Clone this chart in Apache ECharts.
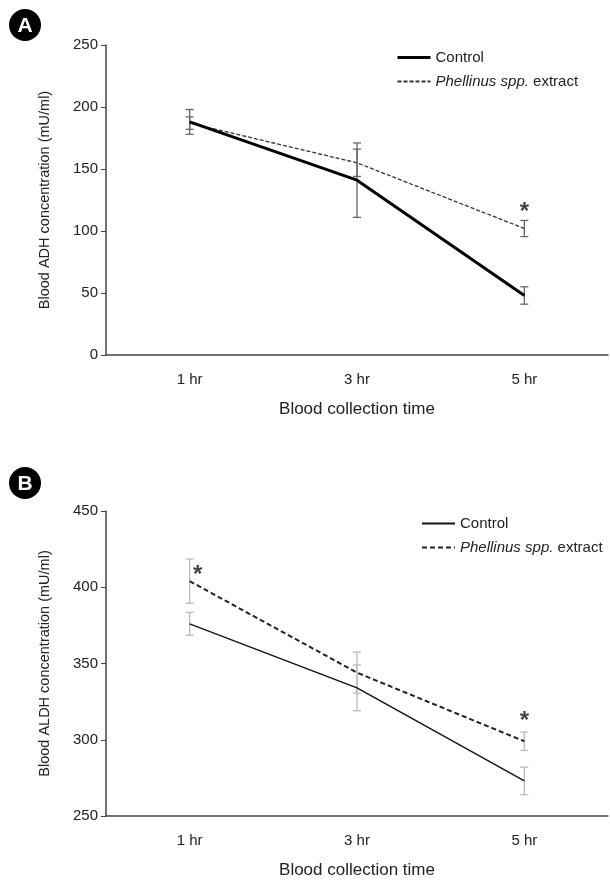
<!DOCTYPE html>
<html>
<head>
<meta charset="utf-8">
<script src="https://cdn.jsdelivr.net/npm/echarts@6/dist/echarts.min.js"></script>
<style>
  html, body { margin: 0; padding: 0; background: #fff; }
  #chart { width: 610px; height: 880px; }
</style>
</head>
<body>
<div id="chart"></div>
<script>
// categories
var times = ['1 hr', '3 hr', '5 hr'];

// panel A - ADH
var adhControl = [188, 141, 48];
var adhControlErr = [10, 30, 7];
var adhExtract = [187, 155, 102];
var adhExtractErr = [5, 11, 6.5];
var adhStars = [[2, 115]];

// panel B - ALDH
var aldhControl = [376, 334, 273];
var aldhControlErr = [7.5, 15, 9];
var aldhExtract = [404, 344, 299];
var aldhExtractErr = [14.5, 13.5, 6];
var aldhStars = [[0, 408], [2, 312]];

var font = 'Liberation Sans, Arial, sans-serif';

function errData(vals, errs) {
    return vals.map(function (v, i) { return [i, v - errs[i], v + errs[i]]; });
}

function errSeries(name, xi, vals, errs, color) {
    return {
        name: name,
        type: 'custom',
        xAxisIndex: xi, yAxisIndex: xi,
        data: errData(vals, errs),
        z: 1,
        renderItem: function (params, api) {
            var lo = api.coord([api.value(0), api.value(1)]);
            var hi = api.coord([api.value(0), api.value(2)]);
            var w = 4;
            var st = { stroke: color, lineWidth: 1.3 };
            return {
                type: 'group',
                children: [
                    { type: 'line', shape: { x1: lo[0], y1: lo[1], x2: hi[0], y2: hi[1] }, style: st },
                    { type: 'line', shape: { x1: lo[0] - w, y1: lo[1], x2: lo[0] + w, y2: lo[1] }, style: st },
                    { type: 'line', shape: { x1: hi[0] - w, y1: hi[1], x2: hi[0] + w, y2: hi[1] }, style: st }
                ]
            };
        }
    };
}

function starSeries(xi, pts, offsets) {
    return {
        type: 'scatter',
        xAxisIndex: xi, yAxisIndex: xi,
        data: pts.map(function (p, i) {
            return { value: p, label: { offset: offsets[i] } };
        }),
        symbolSize: 1,
        itemStyle: { color: 'rgba(0,0,0,0)' },
        silent: true,
        label: {
            show: true, position: 'inside', formatter: '*',
            fontSize: 24, fontWeight: 'bold', color: '#111', fontFamily: font
        }
    };
}

function legendFmt(name) {
    var n = name.trim();
    if (n.indexOf('Phellinus') === 0) return '{i|Phellinus spp.} extract';
    return n;
}

var xAxisBase = {
    type: 'category',
    data: times,
    axisLine: { lineStyle: { color: '#444', width: 1.5 } },
    axisTick: { show: false },
    axisLabel: { color: '#222', fontSize: 15, fontFamily: font, margin: 17 },
    name: 'Blood collection time',
    nameLocation: 'middle',
    nameGap: 46,
    nameTextStyle: { color: '#222', fontSize: 17, fontFamily: font }
};

var yAxisBase = {
    type: 'value',
    interval: 50,
    splitLine: { show: false },
    axisLine: { show: true, lineStyle: { color: '#444', width: 1.5 } },
    axisTick: { show: true, length: 5, lineStyle: { color: '#444' } },
    axisLabel: { color: '#222', fontSize: 15, fontFamily: font, margin: 8 },
    nameLocation: 'middle',
    nameGap: 54,
    nameTextStyle: { color: '#222', fontSize: 14.5, fontFamily: font }
};

var legendBase = {
    orient: 'vertical',
    itemWidth: 33,
    itemHeight: 14,
    itemGap: 9,
    itemStyle: { opacity: 0 },
    formatter: legendFmt,
    textStyle: {
        color: '#222', fontSize: 15, fontFamily: font,
        rich: { i: { fontStyle: 'italic', fontSize: 15, fontFamily: font, color: '#222' } }
    },
    selectedMode: false
};

var chart = echarts.init(document.getElementById('chart'));
chart.setOption({
    backgroundColor: '#fff',
    animation: false,
    graphic: [
        { type: 'circle', shape: { cx: 25, cy: 25, r: 16 }, style: { fill: '#000' } },
        { type: 'text', x: 25, y: 26, style: { text: 'A', fill: '#fff', font: 'bold 21px ' + font, align: 'center', verticalAlign: 'middle' } },
        { type: 'circle', shape: { cx: 25, cy: 483, r: 16 }, style: { fill: '#000' } },
        { type: 'text', x: 25, y: 484, style: { text: 'B', fill: '#fff', font: 'bold 21px ' + font, align: 'center', verticalAlign: 'middle' } }
    ],
    grid: [
        { left: 106, top: 45, right: 2, height: 310 },
        { left: 106, top: 511, right: 2, height: 306 }
    ],
    legend: [
        Object.assign({}, legendBase, {
            left: 391, top: 45,
            data: [{ name: 'Control', lineStyle: { width: 3 } }, 'Phellinus spp. extract']
        }),
        Object.assign({}, legendBase, { left: 416, top: 511, data: ['Control ', 'Phellinus spp. extract '] })
    ],
    xAxis: [
        Object.assign({}, xAxisBase, { gridIndex: 0 }),
        Object.assign({}, xAxisBase, { gridIndex: 1 })
    ],
    yAxis: [
        Object.assign({}, yAxisBase, { gridIndex: 0, min: 0, max: 250, name: 'Blood ADH concentration (mU/ml)' }),
        Object.assign({}, yAxisBase, { gridIndex: 1, min: 250, max: 450, name: 'Blood ALDH concentration (mU/ml)' })
    ],
    series: [
        errSeries('errA1', 0, adhControl, adhControlErr, '#666'),
        errSeries('errA2', 0, adhExtract, adhExtractErr, '#666'),
        {
            name: 'Control', type: 'line', xAxisIndex: 0, yAxisIndex: 0,
            data: adhControl, symbol: 'none', z: 3,
            lineStyle: { color: '#000', width: 3 }, itemStyle: { color: '#000' }
        },
        {
            name: 'Phellinus spp. extract', type: 'line', xAxisIndex: 0, yAxisIndex: 0,
            data: adhExtract, symbol: 'none', z: 2,
            lineStyle: { color: '#333', width: 1.3, type: [4, 2] }, itemStyle: { color: '#333' }
        },
        starSeries(0, adhStars, [[0, 0]]),

        errSeries('errB1', 1, aldhControl, aldhControlErr, '#bbb'),
        errSeries('errB2', 1, aldhExtract, aldhExtractErr, '#bbb'),
        {
            name: 'Control ', type: 'line', xAxisIndex: 1, yAxisIndex: 1,
            data: aldhControl, symbol: 'none', z: 3,
            lineStyle: { color: '#111', width: 1.4 }, itemStyle: { color: '#111' }
        },
        {
            name: 'Phellinus spp. extract ', type: 'line', xAxisIndex: 1, yAxisIndex: 1,
            data: aldhExtract, symbol: 'none', z: 2,
            lineStyle: { color: '#222', width: 2, type: [5, 3] }, itemStyle: { color: '#222' }
        },
        starSeries(1, aldhStars, [[8, 0], [0, 0]])
    ]
});
</script>
</body>
</html>
